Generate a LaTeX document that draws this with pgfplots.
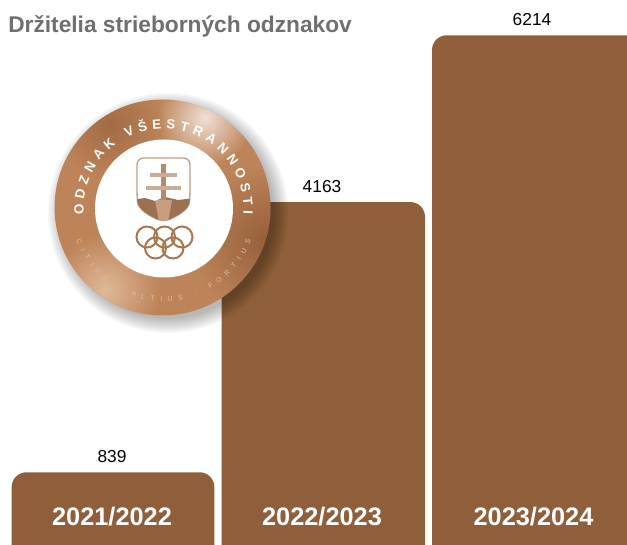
\documentclass[border=0pt]{standalone}
\usepackage{pgfplots}
\pgfplotsset{compat=1.18}
\usepackage{fontspec}
\setmainfont{Liberation Sans}
\usetikzlibrary{decorations.text,fadings,calc}
\definecolor{barc}{HTML}{8E5F3A}
\definecolor{titlec}{HTML}{6F6F6F}
\definecolor{bronzeA}{HTML}{BE8459}
\definecolor{bronzeB}{HTML}{8C5734}
\definecolor{bronzeC}{HTML}{E3BFA0}
\definecolor{ringc}{HTML}{A8764F}
\tikzfading[name=softblob,inner color=transparent!0,outer color=transparent!100]
\begin{document}
\begin{tikzpicture}
\useasboundingbox (0,0) rectangle (470.25pt,408.75pt);
\begin{axis}[
  at={(0,0)},anchor=south west,
  width=470.25pt,height=408.75pt,scale only axis,
  xmin=0,xmax=627,ymin=-55,ymax=6648,
  axis on top,
  axis line style={draw=none},
  major tick length=0pt,
  ytick=\empty,
  xtick={112,322,533.5},
  xticklabels={2021/2022,2022/2023,2023/2024},
  xticklabel style={anchor=center,yshift=21pt,text=white,font=\fontsize{19pt}{20pt}\selectfont\bfseries},
  clip=true,
  nodes near coords,
  point meta=explicit symbolic,
  every node near coord/.append style={font=\fontsize{13pt}{15pt}\selectfont,text=black,anchor=center,yshift=11.5pt},
]
\addplot[fill=barc,draw=none,rounded corners=11pt,nodes near coords={}] coordinates {(11.7,-800)(11.7,839)(214.3,839)(214.3,-800)} --cycle;
\addplot[fill=barc,draw=none,rounded corners=11pt,nodes near coords={}] coordinates {(221.7,-800)(221.7,4163)(425,4163)(425,-800)} --cycle;
\addplot[fill=barc,draw=none,rounded corners=11pt,nodes near coords={}] coordinates {(432,-800)(432,6214)(640,6214)(640,-800)} --cycle;
\addplot[draw=none,mark=none] coordinates {(112,839)[839] (322,4163)[4163] (532,6214)[6214]};
\end{axis}
\begin{scope}[x=0.75pt,y=-0.75pt,yshift=408.75pt]
\node[anchor=west,text=titlec,font=\fontsize{17.05pt}{18pt}\selectfont\bfseries,inner sep=0pt] at (8,26) {Držitelia strieborných odznakov};
% medal shadow
\foreach \r in {120,118,116,114,112,110,108,106}{
  \fill[black,opacity=0.04] (168,213) circle (\r);
}
% medal ring
\begin{scope}
\clip (162.5,207.5) circle (108);
\fill[bronzeA] (50,95) rectangle (275,320);
\fill[bronzeB,path fading=softblob,opacity=0.8] (265,240) circle (75);
\fill[bronzeB,path fading=softblob,opacity=0.55] (110,125) circle (55);
\fill[white,path fading=softblob,opacity=0.75] (205,118) circle (48);
\fill[bronzeC,path fading=softblob,opacity=0.9] (105,290) circle (55);
\end{scope}
\fill[white] (164,208.5) circle (69);
% ring text
\path[decorate,decoration={text along path,text color=white,text align={fit to path},
  text={|\fontsize{10pt}{11pt}\selectfont\bfseries|ODZNAK VŠESTRANNOSTI}}]
  (163.5,208.5) ++(-184:80) arc[start angle=-184,end angle=4,radius=80];
\path[decorate,decoration={text along path,text color=bronzeC,text align={fit to path},
  text={|\fontsize{5.2pt}{6pt}\selectfont|CITIUS · ALTIUS · FORTIUS}}]
  (163.5,208.5) ++(-200:93) arc[start angle=-200,end angle=-340,radius=93];
% shield
\fill[white,draw=ringc!70,line width=1pt,rounded corners=5pt]
  (137,158) -- (190,158) -- (190,195) .. controls (189,210) and (175,217) .. (163.5,222)
  .. controls (152,217) and (138,210) .. (137,195) -- cycle;
\begin{scope}
\clip[rounded corners=5pt] (137,158) -- (190,158) -- (190,195) .. controls (189,210) and (175,217) .. (163.5,222)
  .. controls (152,217) and (138,210) .. (137,195) -- cycle;
\fill[bronzeB!85] (130,200) -- (145,198) -- (155,201) -- (165,197) -- (178,200) -- (195,198) -- (195,225) -- (130,225) -- cycle;
\fill[bronzeC,opacity=0.6] (155,200) -- (172,200) -- (168,222) -- (159,222) -- cycle;
\end{scope}
\fill[ringc!85] (161,164) rectangle (166,200);
\fill[ringc!60] (150,173) rectangle (177,177);
\fill[ringc!60] (146,186) rectangle (181,190);
% Olympic rings
\foreach \cx/\cy in {147/237,164.5/237,182/237,155.5/248,173/248}{
  \draw[ringc,line width=1.5pt] (\cx,\cy) circle (10.5);
}
\end{scope}
\end{tikzpicture}
\end{document}
